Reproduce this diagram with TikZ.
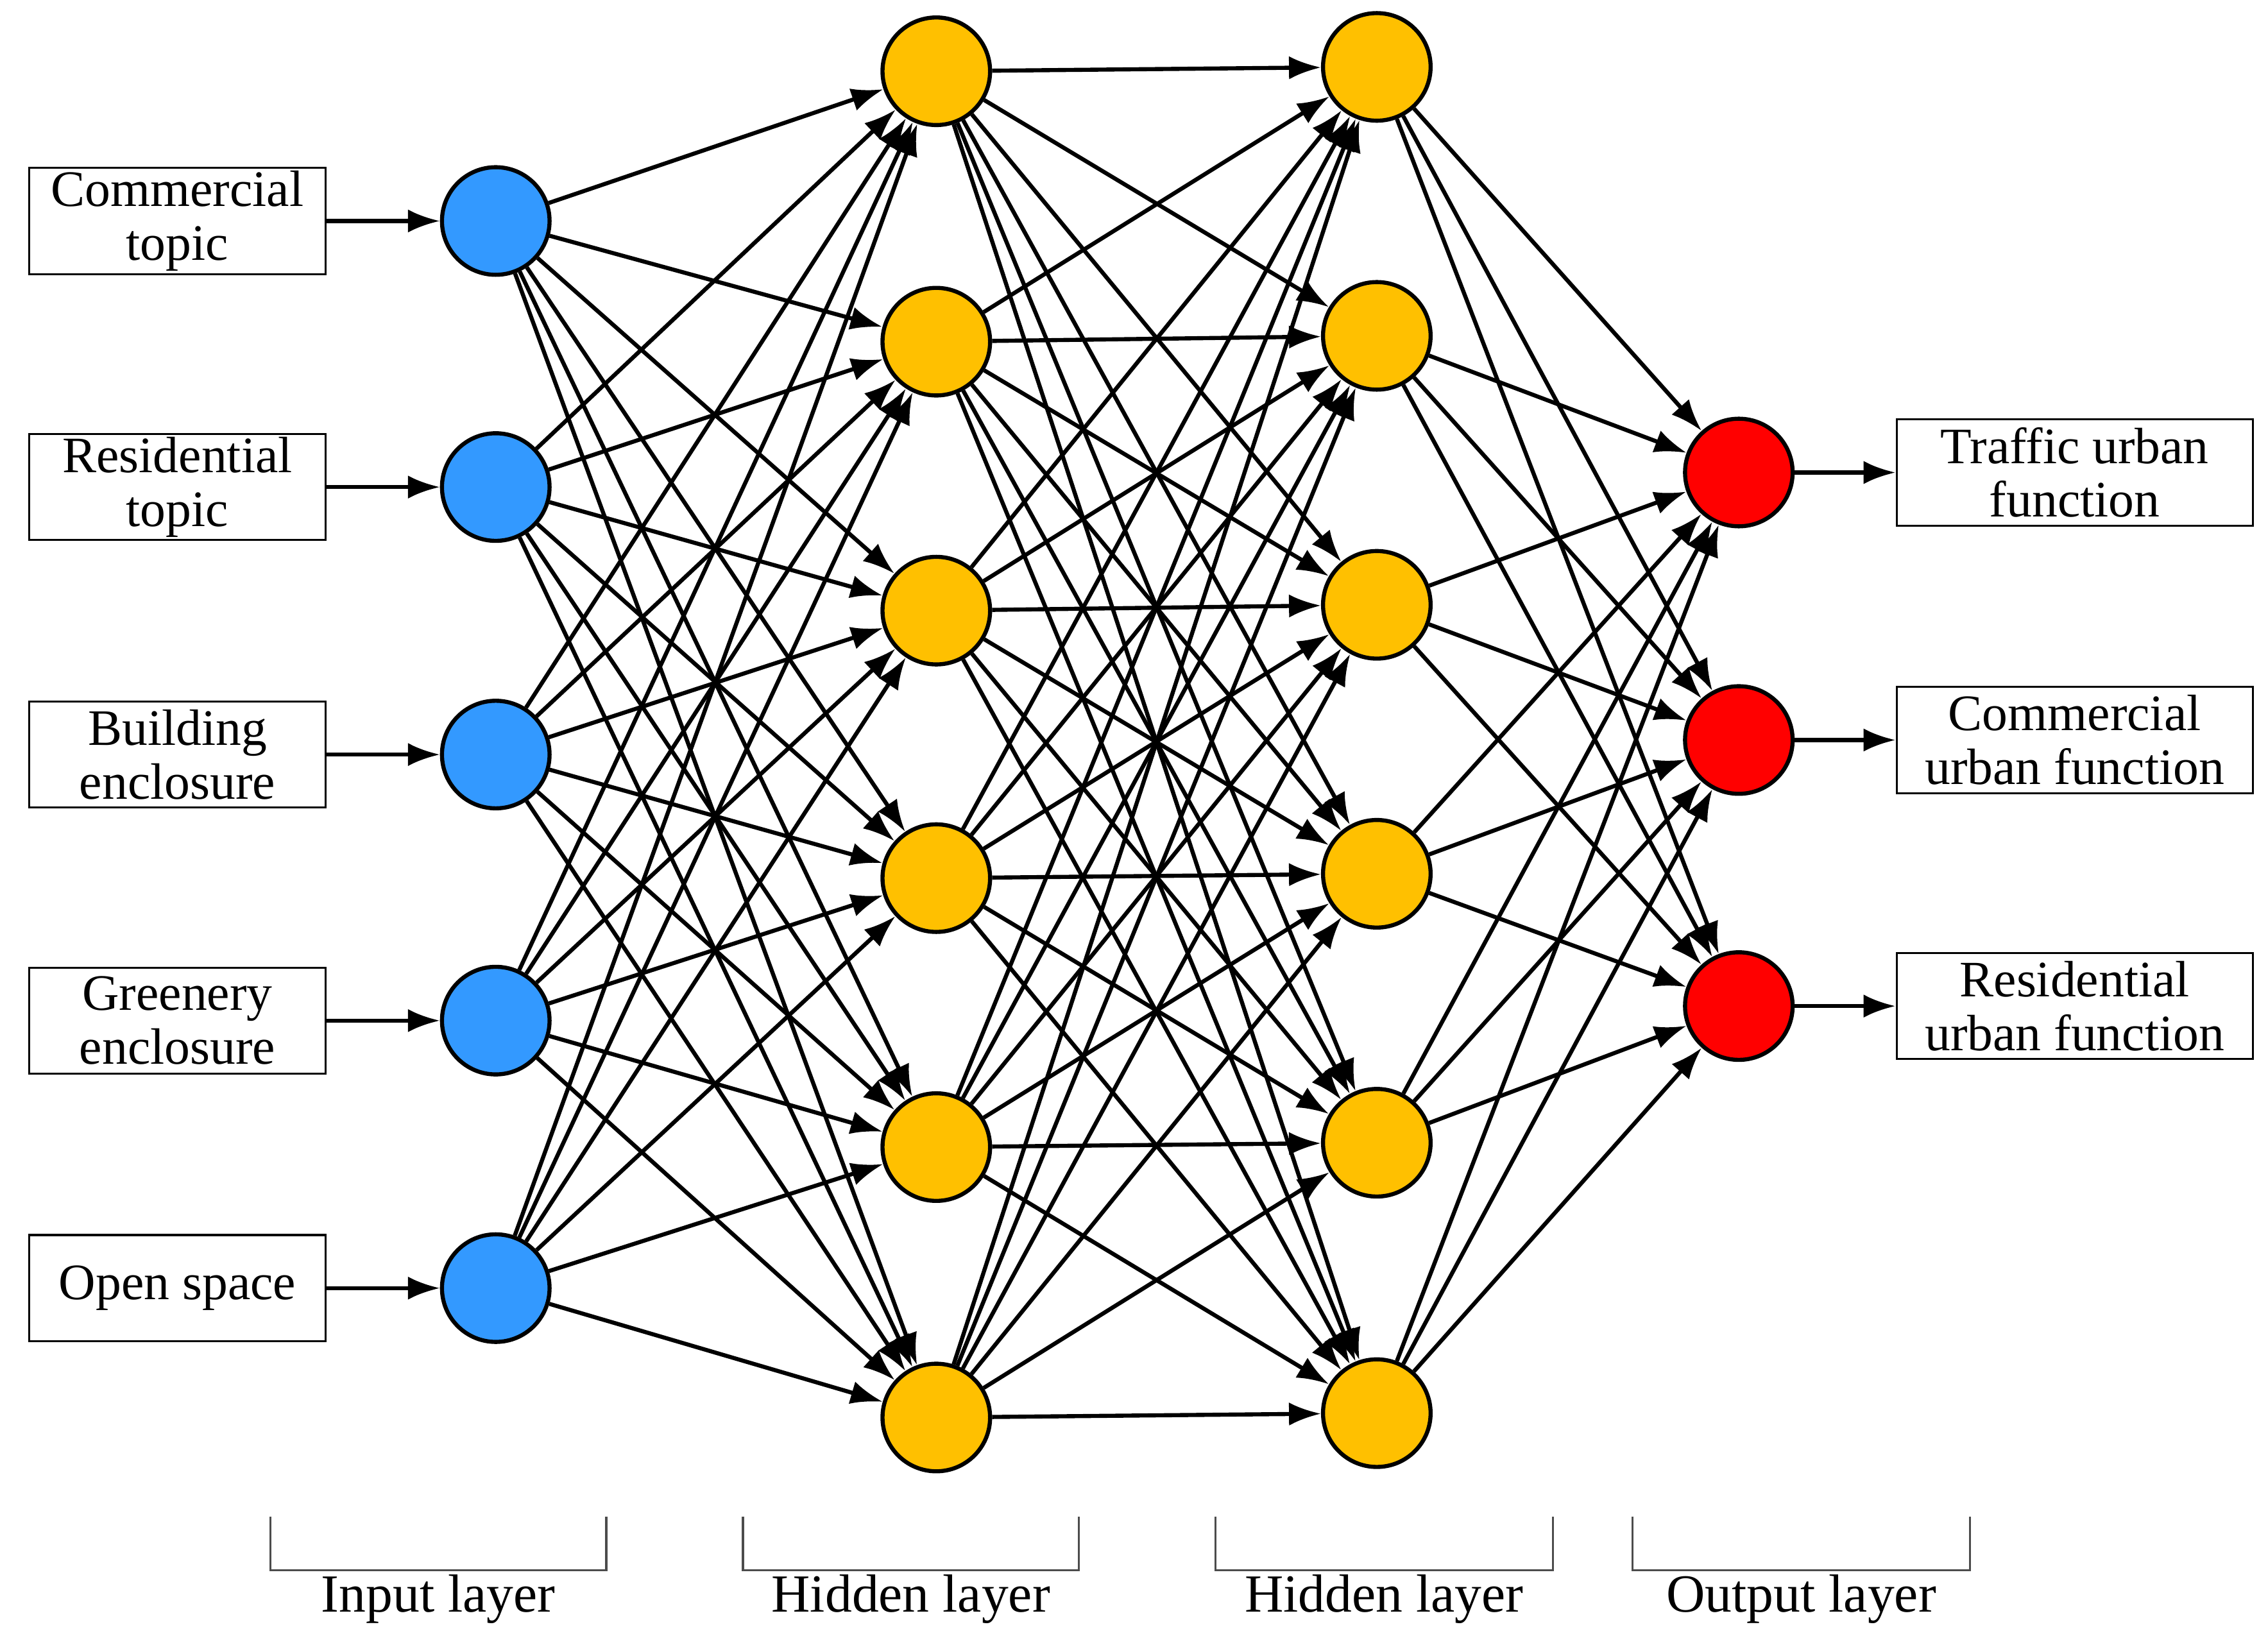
\documentclass[tikz,border=0pt]{standalone}
\usepackage{fontspec}
\setmainfont{Liberation Serif}
\usetikzlibrary{arrows.meta}
\tikzset{
  neuron/.style={circle,draw=black,thick,minimum size=0.74cm,inner sep=0pt},
  inbox/.style={draw=black,minimum width=2.04cm,minimum height=0.73cm,align=center,inner sep=0pt,font=\fontsize{10}{10.5}\selectfont},
  outbox/.style={draw=black,minimum width=2.45cm,minimum height=0.73cm,align=center,inner sep=0pt,font=\fontsize{10}{10.5}\selectfont},
  link/.style={thick,-{Latex[length=2.2mm,width=1.6mm]}},
  bracket/.style={draw=black!70}
}
\begin{document}
\begin{tikzpicture}
\useasboundingbox (0,0) rectangle (15.6,-11.25);

% input layer
\foreach \i/\y in {1/1.52,2/3.35,3/5.19,4/7.02,5/8.86}
  \node[neuron,fill={rgb,255:red,51;green,153;blue,255}] (in\i) at (3.41,-\y) {};
% hidden layers
\foreach \i/\y in {1/0.49,2/2.35,3/4.20,4/6.04,5/7.89,6/9.75}
  \node[neuron,fill={rgb,255:red,255;green,192;blue,0}] (ha\i) at (6.44,-\y) {};
\foreach \i/\y in {1/0.46,2/2.31,3/4.16,4/6.01,5/7.86,6/9.72}
  \node[neuron,fill={rgb,255:red,255;green,192;blue,0}] (hb\i) at (9.47,-\y) {};
% output layer
\foreach \i/\y in {1/3.25,2/5.09,3/6.92}
  \node[neuron,fill=red] (out\i) at (11.96,-\y) {};

% labels
\node[inbox] (t1) at (1.22,-1.52) {Commercial\\topic};
\node[inbox] (t2) at (1.22,-3.35) {Residential\\topic};
\node[inbox] (t3) at (1.22,-5.19) {Building\\enclosure};
\node[inbox] (t4) at (1.22,-7.02) {Greenery\\enclosure};
\node[inbox] (t5) at (1.22,-8.86) {Open space};
\node[outbox] (o1) at (14.27,-3.25) {Traffic urban\\function};
\node[outbox] (o2) at (14.27,-5.09) {Commercial\\urban function};
\node[outbox] (o3) at (14.27,-6.92) {Residential\\urban function};

% connections
\foreach \i in {1,...,5} \draw[link] (t\i) -- (in\i);
\foreach \i in {1,2,3} \draw[link] (out\i) -- (o\i);
\foreach \i in {1,...,5}
  \foreach \j in {1,...,6} \draw[link] (in\i) -- (ha\j);
\foreach \i in {1,...,6}
  \foreach \j in {1,...,6} \draw[link] (ha\i) -- (hb\j);
\foreach \i in {1,...,6}
  \foreach \j in {1,2,3} \draw[link] (hb\i) -- (out\j);

% layer brackets
\foreach \a/\b/\txt/\n in {1.86/4.17/Input layer/il,5.11/7.42/Hidden layer/hl,8.36/10.68/Hidden layer/hm,11.23/13.55/Output layer/ol}{
  \draw[bracket] (\a,-10.43) |- (\b,-10.80) -- (\b,-10.43);
  \node[font=\fontsize{10.5}{11}\selectfont] (\n) at ({(\a+\b)/2},-11.0) {\txt};
}
\end{tikzpicture}
\end{document}
